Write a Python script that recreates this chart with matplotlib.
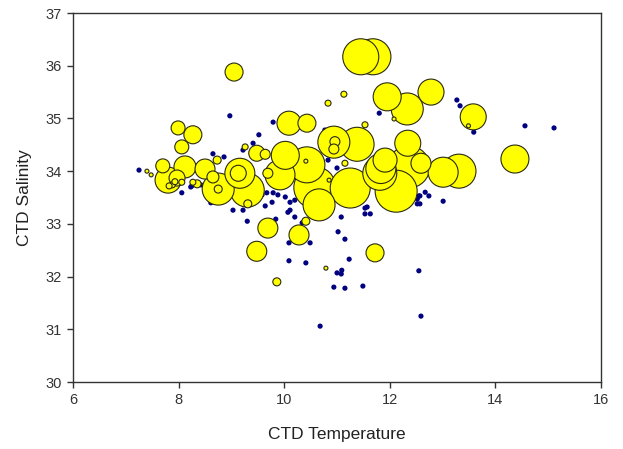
import matplotlib
matplotlib.use("Agg")
import matplotlib.pyplot as plt
import numpy as np

plt.rcParams['font.family'] = ['Liberation Sans', 'DejaVu Sans']

# Navy: stations without bubble value (CTD temperature, salinity)
navy_temp = [7.25, 8.97, 9.52, 9.41, 8.65, 8.86, 8.06, 8.23, 8.61, 9.03, 9.22, 9.30, 9.64, 9.77,
             9.84, 9.79, 9.54, 9.67, 9.79, 9.88, 10.02, 10.11, 10.20, 10.07, 10.20, 9.03, 10.09,
             10.49, 10.41, 10.68, 11.02, 11.15, 11.23, 11.00, 11.09, 11.08, 10.94, 11.15, 11.49,
             12.55, 12.59, 12.55, 12.74, 13.01, 12.52, 12.57, 11.53, 11.63, 11.53, 12.04, 12.67,
             13.27, 13.33, 13.59, 14.56, 15.11, 11.80, 11.08, 10.77, 11.00, 10.34, 10.83, 11.57,
             8.42, 9.22, 9.58, 10.11, 10.09, 12.57, 12.52, 12.57, 8.25]
navy_sal = [34.02, 35.05, 34.69, 34.53, 34.33, 34.27, 33.59, 33.70, 33.40, 33.26, 33.26, 33.05, 33.34, 33.41,
            33.09, 34.93, 33.64, 33.59, 33.59, 33.55, 33.51, 33.41, 33.45, 33.22, 33.13, 33.59, 32.64,
            32.64, 32.26, 31.06, 32.85, 32.71, 32.33, 32.07, 32.12, 32.05, 31.80, 31.78, 31.82,
            32.11, 31.25, 33.53, 33.53, 33.43, 33.38, 33.38, 33.19, 33.19, 33.30, 33.30, 33.60,
            35.35, 35.24, 34.74, 34.86, 34.82, 35.10, 33.13, 34.78, 34.06, 33.02, 34.21, 33.32,
            33.74, 34.40, 33.55, 33.26, 32.30, 33.89, 33.47, 33.53, 33.72]

# Yellow bubbles: (CTD temperature, salinity, bubble value)
bub_temp = [11.68, 11.45, 9.05, 11.95, 12.33, 12.78, 13.58, 14.37, 13.31, 13.01, 10.09, 10.43,
            10.94, 11.38, 12.34, 10.96, 10.94, 11.81, 12.36, 12.12, 10.58, 11.25, 10.66, 10.43,
            9.92, 11.91, 12.59, 11.83,
            7.99, 8.27, 8.06, 7.70, 8.12, 7.80, 7.97, 8.50, 8.65, 8.73, 8.75, 9.16, 9.13, 9.30,
            9.48, 9.64, 10.02, 9.69, 9.31, 8.75, 9.26, 7.88, 8.06, 8.27, 7.40, 7.48,
            9.69, 9.48, 10.28, 9.86, 10.41, 10.79, 11.72,
            11.13, 10.83, 11.53, 12.08, 13.49, 10.41, 10.85, 11.15, 7.82, 7.93, 8.35]
bub_sal = [36.17, 36.17, 35.88, 35.41, 35.18, 35.50, 35.03, 34.23, 34.00, 33.98, 34.91, 34.91,
           34.55, 34.51, 34.53, 34.56, 34.42, 33.96, 34.08, 33.62, 33.69, 33.68, 33.36, 34.12,
           33.93, 34.21, 34.15, 34.05,
           34.82, 34.69, 34.46, 34.10, 34.08, 33.83, 33.87, 34.04, 33.89, 34.21, 33.66, 33.96, 33.96, 33.64,
           34.34, 34.32, 34.30, 33.96, 33.38, 33.66, 34.46, 33.74, 33.79, 33.79, 34.00, 33.93,
           32.92, 32.48, 32.79, 31.90, 33.05, 32.16, 32.45,
           35.46, 35.29, 34.88, 34.99, 34.86, 34.19, 33.83, 34.15, 33.72, 33.80, 33.76]
bub_value = [18, 18, 9, 14, 16, 13, 13, 14, 17, 15, 12, 9,
             16, 17, 13, 5, 5, 17, 21, 21, 21, 20, 16, 18,
             15, 12, 10, 15,
             7, 9, 7, 7, 11, 13, 8, 10, 6, 4, 16, 15, 8, 17,
             8, 5, 14, 5, 4, 4, 3, 3, 3, 3, 2, 2,
             10, 10, 10, 4, 4, 2, 9,
             3, 3, 3, 2, 2, 2, 2, 3, 3, 3, 4]

xticks = [6, 8, 10, 12, 14, 16]
yticks = [30, 31, 32, 33, 34, 35, 36, 37]

fig = plt.figure(figsize=(6.23, 4.49), dpi=100)
ax = fig.add_axes([0.1172, 0.1492, 0.8475, 0.8218])

ax.scatter(navy_temp, navy_sal, s=14, color='#000080', edgecolors='none', zorder=2)

order = np.argsort(-np.array(bub_value), kind='stable')
bt = np.array(bub_temp)[order]
bs = np.array(bub_sal)[order]
bv = np.array(bub_value)[order]
sizes = (1.44 * bv) ** 2
ax.scatter(bt, bs, s=sizes, facecolor='#FFFF00', edgecolors='#2a2a10', linewidths=0.8, zorder=3)

ax.set_xlim(6, 16)
ax.set_ylim(30, 37)
ax.set_xticks(xticks)
ax.set_yticks(yticks)
ax.tick_params(direction='out', length=4, width=1, colors='#333333', labelsize=10.5,
               top=False, right=False, pad=4)
for sp in ax.spines.values():
    sp.set_color('#333333')
    sp.set_linewidth(1.0)

ax.set_xlabel('CTD Temperature', fontsize=12.5, color='#222222', labelpad=14)
ax.set_ylabel('CTD Salinity', fontsize=12.5, color='#222222', labelpad=10)

fig.savefig('out.png', dpi=100)
